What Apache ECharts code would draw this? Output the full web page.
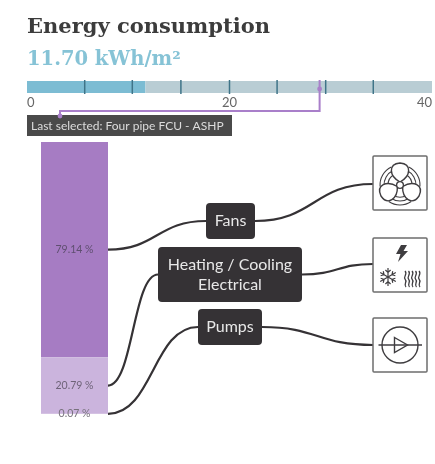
<!DOCTYPE html>
<html>
<head>
<meta charset="utf-8">
<script src="https://cdn.jsdelivr.net/npm/echarts@6/dist/echarts.min.js"></script>
<style>html,body{margin:0;padding:0;background:#fff}#chart{width:435px;height:464px}</style>
</head>
<body>
<div id="chart"></div>
<script>
// Scale along the top: consumption of the current option against its range
const currentValue = 11.70;
const scaleMax = 40;
const scaleTickLabels = [0, 20, 40];
const comparisonValues = [5.7, 10.4, 15.2, 20, 24.7, 29.5, 34.2];
const selectedValue = 28.9;
const selectedLabel = 'Last selected: Four pipe FCU - ASHP';

// Breakdown by end use, top to bottom
const endUses = ['Fans', 'Heating / Cooling\nElectrical', 'Pumps'];
const endUseShares = [79.14, 20.79, 0.07];

// Diagram layout, in page pixels
const nodeBoxes = [
  { x: 206, y: 203, w: 49, h: 36 },
  { x: 158, y: 247, w: 144, h: 55 },
  { x: 198, y: 309, w: 64, h: 36 }
];
const iconBoxes = [
  { x: 373, y: 156, anchor: 28 },
  { x: 373, y: 238, anchor: 26 },
  { x: 373, y: 318, anchor: 27 }
];
const BOX = 54;
const INK = '#3f3d40';

const chart = echarts.init(document.getElementById('chart'), null, { renderer: 'canvas' });

// Running midpoints of the stacked segments; the last one hangs off the bar's foot
let running = 0;
const segmentAnchors = endUseShares.map(function (share) {
  const mid = running + share / 2;
  running += share;
  return mid;
});

function curve(x1, y1, x2, y2) {
  const mx = (x1 + x2) / 2;
  return {
    type: 'bezierCurve',
    shape: { x1: x1, y1: y1, x2: x2, y2: y2, cpx1: mx, cpy1: y1, cpx2: mx, cpy2: y2 },
    style: { stroke: '#353235', lineWidth: 2.2, fill: null }
  };
}

function strokePath(d, width) {
  return { type: 'path', shape: { pathData: d }, style: { stroke: INK, lineWidth: width || 1.2, fill: null } };
}

function fanIcon() {
  const blade = 'M0,-3C-11,-9 -12,-21 0,-22C12,-21 11,-9 0,-3Z';
  const children = [];
  [0, 120, 240].forEach(function (deg) {
    const rot = -deg * Math.PI / 180;
    [12, 16, 20].forEach(function (r) {
      children.push({ type: 'arc', rotation: rot,
        shape: { cx: 0, cy: 0, r: r, startAngle: -Math.PI / 2 + 0.45, endAngle: Math.PI / 6 - 0.45, clockwise: true },
        style: { stroke: INK, lineWidth: 1.1, fill: null } });
    });
  });
  [0, 120, 240].forEach(function (deg) {
    children.push({ type: 'path', rotation: -deg * Math.PI / 180, shape: { pathData: blade },
      style: { stroke: INK, lineWidth: 1.4, fill: '#fff' } });
  });
  children.push({ type: 'circle', shape: { cx: 0, cy: 0, r: 3.4 }, style: { stroke: INK, lineWidth: 1.3, fill: '#fff' } });
  return { type: 'group', x: 27, y: 29, children: children };
}

function electricIcon() {
  const flake = [];
  [0, 60, 120].forEach(function (deg) {
    flake.push(Object.assign(strokePath('M0,-9L0,9M-2.6,-7L0,-4.6L2.6,-7M-2.6,7L0,4.6L2.6,7', 1.2), { rotation: deg * Math.PI / 180 }));
  });
  const waves = [];
  [32, 35.5, 39, 42.5, 46].forEach(function (x) {
    waves.push(strokePath('M' + x + ',33C' + (x + 3) + ',36 ' + (x - 2) + ',39 ' + x + ',41C' + (x + 3) + ',44 ' + (x - 2) + ',46 ' + (x + 1) + ',49', 1.3));
  });
  return { type: 'group', children: [
    { type: 'path', shape: { pathData: 'M28,7L34,7L30.5,13L35,13L25,24L27.5,16L23,16Z' }, style: { fill: INK } },
    { type: 'group', x: 15, y: 39, children: flake }
  ].concat(waves) };
}

function pumpIcon() {
  return { type: 'group', children: [
    { type: 'circle', shape: { cx: 27, cy: 27, r: 18 }, style: { stroke: INK, lineWidth: 1.4, fill: null } },
    strokePath('M5.5,27L49,27', 1.4),
    strokePath('M21.5,19.5L34.5,27L21.5,34.5Z', 1.4)
  ] };
}

const iconBuilders = [fanIcon, electricIcon, pumpIcon];

const option = {
  animation: false,
  title: [
    { text: 'Energy consumption', left: 22, top: 12,
      textStyle: { fontFamily: 'DejaVu Serif', fontWeight: 'bold', fontSize: 21, color: '#3c3c3c' } },
    { text: currentValue.toFixed(2) + ' kWh/m²', left: 22, top: 45,
      textStyle: { fontFamily: 'DejaVu Serif', fontWeight: 'bold', fontSize: 19.5, color: '#86c3d6' } }
  ],
  grid: [
    { left: 27, width: 407, top: 81, height: 12 },
    { left: 41, width: 67, top: 142, height: 272 }
  ],
  xAxis: [
    { gridIndex: 0, type: 'value', min: 0, max: scaleMax, interval: 20,
      axisLine: { show: false }, axisTick: { show: false }, splitLine: { show: false },
      axisLabel: { color: '#666', fontFamily: 'Lato', fontSize: 13, margin: 3,
        alignMinLabel: 'left', alignMaxLabel: 'right',
        customValues: scaleTickLabels } },
    { gridIndex: 1, type: 'category', data: ['share'], show: false }
  ],
  yAxis: [
    { gridIndex: 0, type: 'category', data: ['scale'], show: false },
    { gridIndex: 1, type: 'value', min: 0, max: 100, inverse: true, show: false }
  ],
  series: [
    // Scale bar
    { type: 'bar', xAxisIndex: 0, yAxisIndex: 0, stack: 'scale', barWidth: '100%', silent: true,
      data: [currentValue], itemStyle: { color: '#7cbcd3' } },
    { type: 'bar', xAxisIndex: 0, yAxisIndex: 0, stack: 'scale', barWidth: '100%', silent: true,
      data: [scaleMax - currentValue], itemStyle: { color: '#b9cdd4' } },
    // Comparison ticks on the scale
    { type: 'custom', xAxisIndex: 0, yAxisIndex: 0, silent: true, z: 3,
      data: comparisonValues.map(function (v) { return [v, 'scale']; }),
      renderItem: function (params, api) {
        const p = api.coord([api.value(0), 0]);
        return { type: 'line', shape: { x1: p[0], y1: p[1] - 7, x2: p[0], y2: p[1] + 7 },
          style: { stroke: '#3f7488', lineWidth: 1.5 } };
      } },
    // Leader from the selected option down to its caption
    { type: 'custom', xAxisIndex: 0, yAxisIndex: 0, silent: true, z: 4,
      data: [[selectedValue, 'scale']],
      renderItem: function (params, api) {
        const p = api.coord([api.value(0), 0]);
        const purple = '#a97fca';
        return { type: 'group', children: [
          { type: 'rect', shape: { x: 27, y: 115, width: 205, height: 21 }, style: { fill: '#4a4a4a' } },
          { type: 'text', x: 31, y: 126, style: { text: selectedLabel, fill: '#dcdcdc',
            font: '12px Lato', verticalAlign: 'middle' } },
          { type: 'polyline', shape: { points: [[p[0], p[1] - 7], [p[0], 111], [60, 111], [60, 116]] },
            style: { stroke: purple, lineWidth: 2, fill: null } },
          { type: 'circle', shape: { cx: p[0], cy: p[1] + 2, r: 2.4 }, style: { fill: purple } },
          { type: 'circle', shape: { cx: 60, cy: 116, r: 2.4 }, style: { fill: purple } }
        ] };
      } },
    // Stacked share bar
    { type: 'bar', xAxisIndex: 1, yAxisIndex: 1, stack: 'share', barWidth: '100%', silent: true,
      data: [endUseShares[0]], itemStyle: { color: '#a67cc3' },
      label: { show: true, position: 'inside', formatter: endUseShares[0].toFixed(2) + ' %',
        fontFamily: 'Lato', fontSize: 10.5, color: '#5f4f70' } },
    { type: 'bar', xAxisIndex: 1, yAxisIndex: 1, stack: 'share', barWidth: '100%', silent: true,
      data: [endUseShares[1]], itemStyle: { color: '#cbb4dd' },
      label: { show: true, position: 'inside', formatter: endUseShares[1].toFixed(2) + ' %',
        fontFamily: 'Lato', fontSize: 10.5, color: '#6e6378' } },
    { type: 'bar', xAxisIndex: 1, yAxisIndex: 1, stack: 'share', barWidth: '100%', silent: true,
      data: [endUseShares[2]], itemStyle: { color: '#cbb4dd' },
      label: { show: true, position: 'inside', formatter: endUseShares[2].toFixed(2) + ' %',
        fontFamily: 'Lato', fontSize: 10.5, color: '#77727c' } },
    // Connectors, end-use nodes and icon tiles
    { type: 'custom', xAxisIndex: 1, yAxisIndex: 1, silent: true, z: 5,
      data: segmentAnchors.map(function (v) { return ['share', v]; }),
      renderItem: function (params, api) {
        const i = params.dataIndex;
        const p = api.coord([0, api.value(1)]);
        const barRight = p[0] + api.size([1, 0])[0] / 2;
        const node = nodeBoxes[i];
        const icon = iconBoxes[i];
        const nodeMid = node.y + node.h / 2;
        const built = iconBuilders[i]();
        return { type: 'group', children: [
          curve(barRight, p[1], node.x, nodeMid),
          curve(node.x + node.w, nodeMid, icon.x, icon.y + icon.anchor),
          { type: 'rect', shape: { x: node.x, y: node.y, width: node.w, height: node.h, r: 4 },
            style: { fill: '#353235' } },
          { type: 'text', x: node.x + node.w / 2, y: nodeMid,
            style: { text: endUses[i], fill: '#e8e8e8', font: '16px Lato', align: 'center',
              verticalAlign: 'middle', lineHeight: 20 } },
          { type: 'group', x: icon.x, y: icon.y, children: [
            { type: 'rect', shape: { x: 0, y: 0, width: BOX, height: BOX, r: 1 },
              style: { fill: '#fff', stroke: '#6e6e6e', lineWidth: 1.5 } },
            built
          ] }
        ] };
      } }
  ]
};

chart.setOption(option);
</script>
</body>
</html>
